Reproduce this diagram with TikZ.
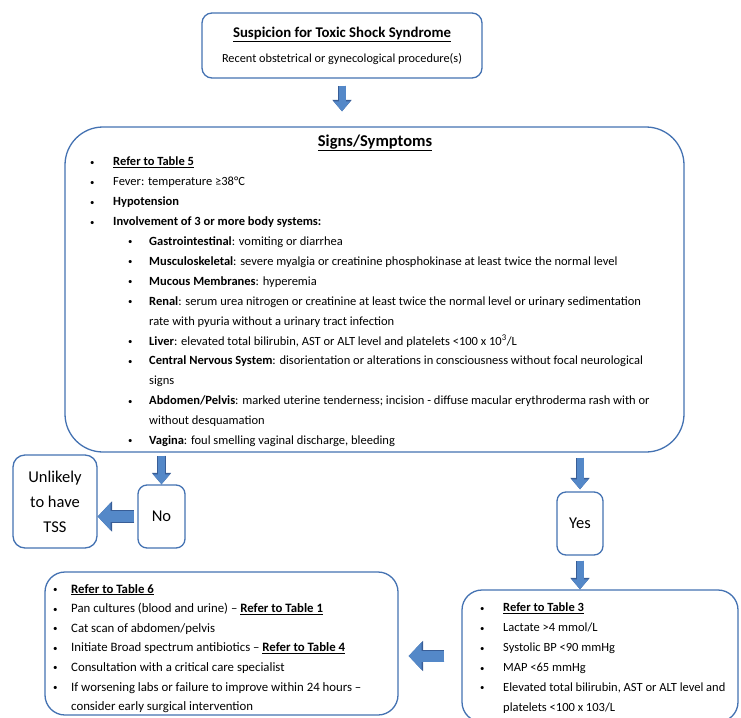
\documentclass[tikz,border=0pt]{standalone}
\usepackage{fontspec}
\setmainfont{Carlito}
\usetikzlibrary{arrows.meta}
\definecolor{boxblue}{RGB}{68,114,178}
\definecolor{arrowblue}{RGB}{84,136,200}
\definecolor{arrowdark}{RGB}{56,93,150}
\newcommand{\smallbul}{\raisebox{0.6pt}{\scalebox{0.7}{\textbullet}}}
\newcommand{\bulA}{\makebox[23pt][l]{\smallbul}}
\newcommand{\bulB}{\hspace*{38pt}\makebox[21pt][l]{\smallbul}}
\newcommand{\contB}{\hspace*{59pt}}
\newcommand{\reftab}[1]{\textbf{\underline{Refer to Table #1}}}
\tikzset{
  box/.style={
    rounded corners=10pt,
    draw=boxblue,
    line width=1.3pt,
    fill=white,
    align=center,
    inner sep=0pt,
    font=\fontsize{12.3}{25}\selectfont
  },
  bigbox/.style={box, rounded corners=38pt},
  listbox/.style={box, rounded corners=20pt},
  answer/.style={box, rounded corners=9pt, font=\fontsize{16.5}{25}\selectfont},
  listtext/.style={anchor=north west, align=left, inner sep=0pt, font=\fontsize{12.5}{19.9}\selectfont},
  blockarrow/.style={line width=7pt, draw=arrowblue, -{Triangle[width=16pt,length=10pt]},
    preaction={draw=arrowdark, line width=8.4pt, -{Triangle[width=18.6pt,length=11.4pt]}}},
  widearrow/.style={line width=11pt, draw=arrowblue, -{Triangle[width=27pt,length=13pt]},
    preaction={draw=arrowdark, line width=12.4pt, -{Triangle[width=29.6pt,length=14.4pt]}}}
}
\begin{document}
\begin{tikzpicture}[x=1pt, y=-1pt]
  \useasboundingbox (0,0) rectangle (741,717);
  % top of the chart
  \node[box, minimum width=280pt, minimum height=65pt] (suspicion) at (342,45.5)
    {{\fontsize{14.8}{25}\selectfont\bfseries\underline{Suspicion for Toxic Shock Syndrome}}\\
     Recent obstetrical or gynecological procedure(s)};
  \node[bigbox, minimum width=619pt, minimum height=325pt] (signs) at (374.5,289.5) {};
  \node[font=\fontsize{16.5}{20}\selectfont\bfseries] (signstitle) at (375,143) {\underline{Signs/Symptoms}};
  \node[listtext] (signslist) at (90,157) {%
    \bulA\reftab{5}\\
    \bulA Fever: temperature ≥38°C\\
    \bulA\textbf{Hypotension}\\
    \bulA\textbf{Involvement of 3 or more body systems:}\\
    \bulB\textbf{Gastrointestinal}: vomiting or diarrhea\\
    \bulB\textbf{Musculoskeletal}: severe myalgia or creatinine phosphokinase at least twice the normal level\\
    \bulB\textbf{Mucous Membranes}: hyperemia\\
    \bulB\textbf{Renal}: serum urea nitrogen or creatinine at least twice the normal level or urinary sedimentation\\
    \contB rate with pyuria without a urinary tract infection\\
    \bulB\textbf{Liver}: elevated total bilirubin, AST or ALT level and platelets <100 x 10\textsuperscript{3}/L\\
    \bulB\textbf{Central Nervous System}: disorientation or alterations in consciousness without focal neurological\\
    \contB signs\\
    \bulB\textbf{Abdomen/Pelvis}: marked uterine tenderness; incision - diffuse macular erythroderma rash with or\\
    \contB without desquamation\\
    \bulB\textbf{Vagina}: foul smelling vaginal discharge, bleeding};
  % answers
  \node[answer, minimum width=47pt, minimum height=63pt] (no) at (161.5,516.5) {No};
  \node[answer, rounded corners=12pt, minimum width=84pt, minimum height=93pt] (unlikely) at (55,501.5)
    {Unlikely\\to have\\TSS};
  \node[answer, minimum width=46pt, minimum height=63pt] (yes) at (580,523.5) {Yes};
  % bottom boxes
  \node[listbox, minimum width=276pt, minimum height=132pt] (crit) at (600,656) {};
  \node[listtext] (critlist) at (480,603) {%
    \bulA\reftab{3}\\
    \bulA Lactate >4 mmol/L\\
    \bulA Systolic BP <90 mmHg\\
    \bulA MAP <65 mmHg\\
    \bulA Elevated total bilirubin, AST or ALT level and\\
    \hspace*{23pt}platelets <100 x 103/L};
  \node[listbox, minimum width=353pt, minimum height=143pt] (mgmt) at (221.5,643.5) {};
  \node[listtext, font=\fontsize{12.8}{19.6}\selectfont] (mgmtlist) at (53,584) {%
    \makebox[18pt][l]{\smallbul}\reftab{6}\\
    \makebox[18pt][l]{\smallbul}Pan cultures (blood and urine) -- \reftab{1}\\
    \makebox[18pt][l]{\smallbul}Cat scan of abdomen/pelvis\\
    \makebox[18pt][l]{\smallbul}Initiate Broad spectrum antibiotics -- \reftab{4}\\
    \makebox[18pt][l]{\smallbul}Consultation with a critical care specialist\\
    \makebox[18pt][l]{\smallbul}If worsening labs or failure to improve within 24 hours --\\
    \hspace*{18pt}consider early surgical intervention};
  % arrows
  \draw[blockarrow, shorten <=7pt, shorten >=15pt] (suspicion.south) -- (suspicion.south |- signs.north);
  \draw[blockarrow, shorten <=3pt] (no.north |- signs.south) -- (no.north);
  \draw[blockarrow, shorten <=5pt, shorten >=2pt] (yes.north |- signs.south) -- (yes.north);
  \draw[blockarrow, shorten <=5pt] (yes.south) -- (yes.south |- crit.north);
  \draw[widearrow, shorten <=3pt] (no.west) -- (unlikely.east |- no.west);
  \draw[widearrow, shorten <=17pt, shorten >=10pt] (crit.west) -- (mgmt.east |- crit.west);
\end{tikzpicture}
\end{document}
